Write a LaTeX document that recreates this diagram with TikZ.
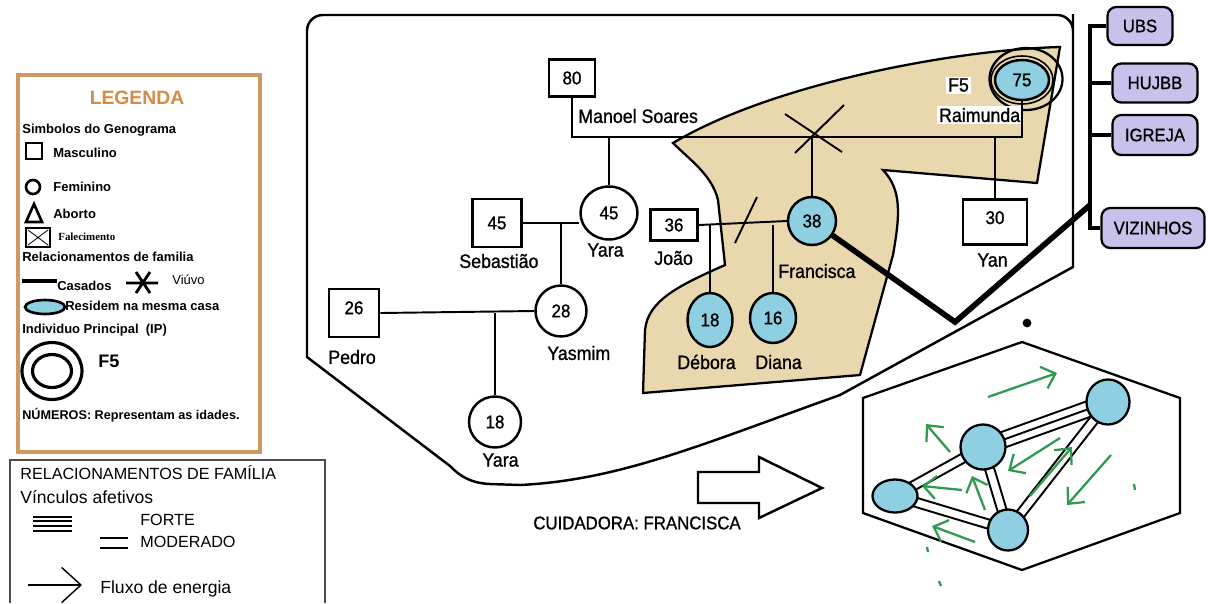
\documentclass[tikz,border=0pt]{standalone}
\usepackage{fontspec}
\setmainfont{Liberation Sans}
\newfontfamily\genofont{Liberation Sans}[FakeStretch=0.92,FakeBold=1]
\newfontfamily\serifbold{Liberation Serif}
\usetikzlibrary{arrows.meta,shapes.geometric,calc}

\definecolor{casa}{HTML}{E9D8AE}
\definecolor{azulcasa}{HTML}{8ECFE2}
\definecolor{lilas}{HTML}{C7C2EB}
\definecolor{bordalegenda}{HTML}{CD9A62}
\definecolor{titulolegenda}{HTML}{D58A45}
\definecolor{verdefluxo}{HTML}{2F9A50}

\tikzset{
  masc/.style={draw, line width=1.5pt, fill=white, inner sep=0pt, font=\genofont\fontsize{10.5}{12}\selectfont},
  fem/.style={ellipse, draw, line width=1.4pt, fill=white, inner sep=0pt, font=\genofont\fontsize{10.5}{12}\selectfont},
  nome/.style={anchor=west, inner sep=0pt, font=\genofont\fontsize{11}{13}\selectfont},
  lig/.style={line width=1.1pt},
  legtxt/.style={anchor=west, inner sep=0pt, font=\bfseries\fontsize{7.4}{9}\selectfont},
  legtxt2/.style={anchor=west, inner sep=0pt, font=\fontsize{9.2}{11}\selectfont},
  servico/.style={draw, line width=1.3pt, fill=lilas, rounded corners=5pt, inner sep=0pt, font=\genofont\fontsize{10.3}{12}\selectfont},
  membro/.style={ellipse, draw, line width=1.3pt, fill=azulcasa, inner sep=0pt},
  vinculo/.style={line width=1.1pt},
  fluxo/.style={line width=0.8pt, -{Straight Barb[length=11pt,width=20pt]}},
  setafluxo/.style={verdefluxo, line width=1.3pt, -{Straight Barb[length=7pt,width=13pt]}},
}

\begin{document}
\begin{tikzpicture}[x=0.02cm, y=-0.02cm]
  \useasboundingbox (0,0) rectangle (1208,603);

  % Legenda: simbolos do genograma
  \draw[bordalegenda, line width=2pt] (18,75) rectangle (260,452);
  \node[font=\bfseries\fontsize{11}{13}\selectfont, text=titulolegenda] (leg-titulo) at (137,98) {LEGENDA};
  \node[legtxt] (leg-simb) at (22,130) {Simbolos do Genograma};
  \node[draw, line width=1.5pt, minimum size=0.32cm, inner sep=0pt] (leg-masc) at (34,151) {};
  \node[legtxt] (leg-masc-txt) at (53,153) {Masculino};
  \node[circle, draw, line width=1.5pt, minimum size=0.28cm, inner sep=0pt] (leg-fem) at (33,187) {};
  \node[legtxt] (leg-fem-txt) at (53,187) {Feminino};
  \draw[line width=1.5pt] (26,222) -- (34,204) -- (42,222) -- cycle;
  \node[legtxt] (leg-aborto) at (53,214) {Aborto};
  \draw[line width=1.2pt] (26,228) rectangle (50,247);
  \draw[line width=0.5pt] (28,230) -- (48,245) (48,230) -- (28,245);
  \node[anchor=west, inner sep=0pt, font=\serifbold\bfseries\fontsize{6.2}{7}\selectfont] (leg-falec) at (58,237) {Falecimento};
  \node[legtxt] (leg-rel) at (22,257) {Relacionamentos de familia};
  \draw[line width=2pt] (22,281) -- (57,281);
  \node[legtxt] (leg-casados) at (57,286) {Casados};
  \draw[line width=1.6pt] (126,283) -- (158,283) (136,272) -- (150,293) (150,272) -- (136,293);
  \node[legtxt, font=\fontsize{7.4}{9}\selectfont] (leg-viuvo) at (172,280) {Viúvo};
  \node[ellipse, draw, line width=1.5pt, fill=azulcasa, minimum width=0.8cm, minimum height=0.28cm, inner sep=0pt] (leg-casa) at (45,307) {};
  \node[legtxt] (leg-casa-txt) at (65,306) {Residem na mesma casa};
  \node[legtxt] (leg-ip) at (22,330) {Individuo Principal\ \ (IP)};
  \node[ellipse, draw, line width=1.8pt, minimum width=1.2cm, minimum height=1.14cm] (leg-ip-ext) at (52,371) {};
  \node[ellipse, draw, line width=1.8pt, minimum width=0.78cm, minimum height=0.66cm] (leg-ip-int) at (52,371) {};
  \node[legtxt, font=\bfseries\fontsize{10.3}{12}\selectfont] (leg-f5) at (98,361) {F5};
  \node[legtxt, font=\bfseries\fontsize{7.2}{9}\selectfont] (leg-numeros) at (22,415) {NÚMEROS: Representam as idades.};

  % Legenda: relacionamentos
  \draw[gray!60!black, line width=0.7pt] (10,603) -- (10,460) -- (325,460) -- (325,603);
  \node[legtxt2] (leg-rf) at (20,473) {RELACIONAMENTOS DE FAMÍLIA};
  \node[legtxt2, font=\fontsize{10}{12}\selectfont] (leg-vinc) at (20,497) {Vínculos afetivos};
  \foreach \y in {517,521,526,531} \draw[line width=0.6pt] (33,\y) -- (72,\y);
  \node[legtxt2] (leg-forte) at (140,520) {FORTE};
  \foreach \y in {538,548} \draw[line width=0.6pt] (100,\y) -- (128,\y);
  \node[legtxt2] (leg-moderado) at (140,542) {MODERADO};
  \draw[fluxo] (28,585) -- (82,585);
  \node[legtxt2, font=\fontsize{10}{12}\selectfont] (leg-fluxo) at (100,589) {Fluxo de energia};

  % Contorno do genograma
  \draw[line width=1.4pt] (840,395) .. controls (700,445) and (620,480) .. (520,485) -- (490,484)
    .. controls (470,483) and (460,476) .. (450,466) -- (307,357) -- (307,30)
    [rounded corners=9pt] -- (307,15) -- (1073,15) -- (1073,30) [sharp corners] -- (1073,267) -- cycle;

  % Casa (residem juntos)
  \draw[fill=casa, line width=1.3pt] (673,143) .. controls (770,85) and (950,50) .. (1060,47)
    -- (1037,183) -- (883,170) .. controls (902,190) and (900,215) .. (893,255)
    -- (860,375) -- (643,393) -- (645,330) .. controls (648,300) and (680,285) .. (725,265)
    -- (718,200) .. controls (712,175) and (690,160) .. (673,143) -- cycle;

  % Membros da familia
  \node[masc, minimum width=0.92cm, minimum height=0.74cm] (manoel) at (572,78) {80};
  \node[fem, minimum width=1.14cm, minimum height=1.06cm] (yara45) at (609,213) {45};
  \node[masc, minimum width=0.98cm, minimum height=0.96cm] (sebastiao) at (497,223) {45};
  \node[fem, minimum width=1.02cm, minimum height=1.02cm] (yasmim) at (561,311) {28};
  \node[masc, minimum width=1.0cm, minimum height=0.96cm] (pedro) at (354,313) {\raisebox{6pt}{26}\hspace{8pt}};
  \node[fem, minimum width=1.04cm, minimum height=1.02cm] (yara18) at (495,422) {18};
  \node[masc, minimum width=0.94cm, minimum height=0.62cm] (joao) at (674,225) {36};
  \node[fem, fill=azulcasa, minimum width=0.96cm, minimum height=0.96cm] (francisca) at (812,221) {38};
  \node[fem, fill=azulcasa, minimum width=0.9cm, minimum height=1.08cm] (debora) at (710,320) {18};
  \node[fem, fill=azulcasa, minimum width=0.92cm, minimum height=1.0cm] (diana) at (773,318) {16};
  \node[fem, fill=azulcasa, minimum width=1.08cm, minimum height=0.8cm] (raimunda) at (1022,80) {75};
  \node[ellipse, draw, line width=0.9pt, minimum width=1.24cm, minimum height=0.96cm] (ip-anel) at (raimunda) {};
  \node[ellipse, draw, line width=1.3pt, minimum width=1.46cm, minimum height=1.24cm] (ip-ext) at (1026,79) {};
  \node[masc, minimum width=1.28cm, minimum height=0.9cm] (yan) at (995,222) {\raisebox{5pt}{30}};

  % Nomes
  \node[nome] (n-manoel) at (578,116) {Manoel Soares};
  \node[nome] (n-yara45) at (587,250) {Yara};
  \node[nome] (n-sebastiao) at (459,261) {Sebastião};
  \node[nome] (n-yasmim) at (547,353) {Yasmim};
  \node[nome] (n-pedro) at (328,357) {Pedro};
  \node[nome] (n-yara18) at (482,460) {Yara};
  \node[nome] (n-joao) at (654,258) {João};
  \node[nome] (n-francisca) at (778,271) {Francisca};
  \node[nome] (n-debora) at (677,362) {Débora};
  \node[nome] (n-diana) at (755,362) {Diana};
  \node[nome, fill=white, inner sep=1pt] (n-f5) at (946,85) {F5};
  \node[nome, fill=white, inner sep=1pt] (n-raimunda) at (937,115) {Raimunda};
  \node[nome] (n-yan) at (977,260) {Yan};

  % Casamentos e filhos
  \coordinate (uniao) at (808,137);
  \draw[lig] (manoel.south) |- (uniao) -| (raimunda.south);
  \draw[lig] (yara45.north) -- (yara45.north |- uniao);
  \draw[lig] (francisca.north) -- (francisca.north |- uniao);
  \draw[lig] (yan.north) -- (yan.north |- uniao);
  \draw[lig] ([shift={(-23,-23)}]uniao) -- ([shift={(34,15)}]uniao);
  \draw[lig] ([shift={(36,-32)}]uniao) -- ([shift={(-13,16)}]uniao);
  \draw[lig] (sebastiao.east) -- (sebastiao.east -| yara45.west);
  \draw[lig] (yasmim.north) -- (yasmim.north |- sebastiao.east);
  \draw[lig] (pedro.east) -- (yasmim.west);
  \draw[lig] (yara18.north) -- (yara18.north |- pedro.east);
  \draw[lig] (joao.east) -- (francisca.west);
  \draw[lig] (debora.north) -- (debora.north |- joao.east);
  \draw[lig] (diana.north) -- (diana.north |- joao.east);
  \coordinate (separacao) at (746,220);
  \draw[lig] ([shift={(-11,23)}]separacao) -- ([shift={(11,-23)}]separacao);

  % Rede de apoio
  \node[servico, minimum width=1.3cm, minimum height=0.76cm] (ubs) at (1140,26) {UBS};
  \node[servico, minimum width=1.7cm, minimum height=0.78cm] (hujbb) at (1155,83) {HUJBB};
  \node[servico, minimum width=1.7cm, minimum height=0.8cm] (igreja) at (1155,135) {IGREJA};
  \node[servico, minimum width=2.06cm, minimum height=0.8cm] (vizinhos) at (1153,228) {VIZINHOS};
  \coordinate (eixo-topo) at (1090,26);
  \coordinate (eixo-base) at (1090,228);
  \draw[line width=2.6pt] (ubs.west) -- (eixo-topo) -- (eixo-base) -- (vizinhos.west);
  \draw[line width=2.6pt] (hujbb.west) -- (hujbb.west -| eixo-topo);
  \draw[line width=2.6pt] (igreja.west) -- (igreja.west -| eixo-topo);
  \coordinate (cotovelo) at (955,322);
  \coordinate (eixo-viz) at (1090,205);
  \draw[line width=3.2pt] (francisca.-35) -- (cotovelo) -- (eixo-viz);
  \fill (1027,323) circle[radius=2.5pt];

  % Cuidadora
  \draw[line width=1.4pt, fill=white] (698,472) -- (759,472) -- (759,457) -- (822,488)
    -- (759,518) -- (759,503) -- (698,503) -- cycle;
  \node[anchor=west, inner sep=0pt, font=\genofont\fontsize{10.4}{12}\selectfont] (cuidadora) at (533,523) {CUIDADORA: FRANCISCA};

  % Ecomapa da casa
  \draw[line width=1.3pt] (1022,342) -- (1180,398) -- (1180,513) -- (1022,570) -- (863,513) -- (863,398) -- cycle;
  \coordinate (p1) at (1108,402);
  \coordinate (p2) at (983,447);
  \coordinate (p3) at (895,496);
  \coordinate (p4) at (1008,530);
  \foreach \d in {-4.5pt,0pt,4.5pt}
    \draw[vinculo] ($(p2)!\d!90:(p1)$) -- ($(p1)!\d!-90:(p2)$);
  \foreach \a/\b in {p3/p2, p3/p4, p2/p4, p1/p4}
    \foreach \d in {-2.6pt,2.6pt}
      \draw[vinculo] ($(\a)!\d!90:(\b)$) -- ($(\b)!\d!-90:(\a)$);
  \node[membro, minimum width=0.86cm, minimum height=0.9cm] (m1) at (p1) {};
  \node[membro, minimum width=0.9cm, minimum height=0.9cm] (m2) at (p2) {};
  \node[membro, minimum width=0.9cm, minimum height=0.66cm] (m3) at (p3) {};
  \node[membro, minimum width=0.8cm, minimum height=0.82cm] (m4) at (p4) {};

  % Fluxo de energia
  \foreach \xa/\ya/\xb/\yb in {988/397/1057/373, 950/452/926/424, 962/490/922/486, 985/510/972/476,
                               975/542/932/526, 1060/438/1008/471, 1030/496/1072/447, 1111/455/1067/505}
    \draw[setafluxo] (\xa,\ya) -- (\xb,\yb);
  \draw[verdefluxo, line width=1.3pt] (1134,484) -- (1135,490) (927,547) -- (928,552) (939,581) -- (941,586);
\end{tikzpicture}
\end{document}
